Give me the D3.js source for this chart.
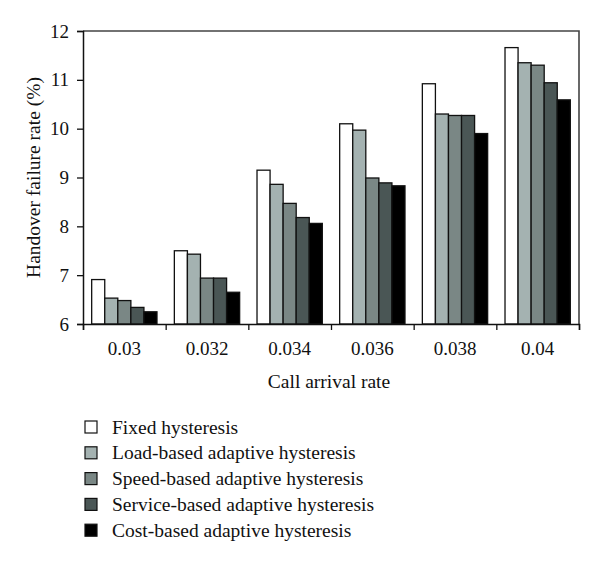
<!DOCTYPE html>
<html>
<head>
<meta charset="utf-8">
<script src="https://cdn.jsdelivr.net/npm/d3@7"></script>
<style>
  body { margin: 0; background: #fff; }
  svg text { font-family: "Liberation Serif", "DejaVu Serif", serif; fill: #111; }
</style>
</head>
<body>
<svg width="600" height="561"></svg>
<script>
// call arrival rates (x categories)
var rates = ['0.03', '0.032', '0.034', '0.036', '0.038', '0.04'];
var series = ['Fixed hysteresis', 'Load-based adaptive hysteresis', 'Speed-based adaptive hysteresis',
              'Service-based adaptive hysteresis', 'Cost-based adaptive hysteresis'];
var colors = ['#ffffff', '#a4b2b1', '#7a8785', '#4a5655', '#000000'];
var yTicks = [6, 7, 8, 9, 10, 11, 12];

// handover failure rate (%) per series, one value per rate
var fixed   = [6.91, 7.50, 9.15, 10.10, 10.92, 11.66];
var load    = [6.53, 7.43, 8.86, 9.97, 10.30, 11.35];
var speed   = [6.48, 6.94, 8.47, 8.99, 10.27, 11.30];
var service = [6.34, 6.94, 8.18, 8.89, 10.27, 10.94];
var cost    = [6.25, 6.65, 8.06, 8.83, 9.90, 10.59];
var values = [fixed, load, speed, service, cost];

var svg = d3.select('svg');
var pL = 83, pR = 579, pT = 31, pB = 324;

var x0 = d3.scaleBand().domain(rates).range([pL, pR]).paddingInner(0.21).paddingOuter(0.105);
var x1 = d3.scaleBand().domain(d3.range(series.length)).range([0, x0.bandwidth()]);
var y = d3.scaleLinear().domain([6, 12]).range([pB, pT]);
var xb = d3.scaleLinear().domain([0, rates.length]).range([pL, pR]);

// frame top / right
svg.append('path')
  .attr('d', 'M' + pL + ',' + pT + 'H' + pR + 'V' + pB)
  .attr('fill', 'none').attr('stroke', '#444').attr('stroke-width', 1.6);

// bars
var groups = svg.selectAll('g.grp')
  .data(rates)
  .enter().append('g')
  .attr('class', 'grp')
  .attr('transform', function(d){ return 'translate(' + x0(d) + ',0)'; });

groups.selectAll('rect')
  .data(function(d, i){ return values.map(function(s, j){ return {j: j, v: s[i]}; }); })
  .enter().append('rect')
  .attr('x', function(d){ return x1(d.j); })
  .attr('width', x1.bandwidth())
  .attr('y', function(d){ return y(d.v); })
  .attr('height', function(d){ return pB - y(d.v); })
  .attr('fill', function(d){ return colors[d.j]; })
  .attr('stroke', '#111')
  .attr('stroke-width', 1.3);

// y axis
var ya = svg.append('g')
  .attr('transform', 'translate(' + pL + ',0)')
  .call(d3.axisLeft(y).tickValues(yTicks).tickSize(6).tickPadding(8).tickFormat(d3.format('d')));
ya.selectAll('text').style('font-size', '19px');

// x axis: ticks at group boundaries
svg.append('g')
  .attr('transform', 'translate(0,' + pB + ')')
  .call(d3.axisBottom(xb).ticks(rates.length).tickSize(6).tickFormat(''));

// x labels at group centres
var xl = svg.append('g')
  .attr('transform', 'translate(0,' + pB + ')')
  .call(d3.axisBottom(x0).tickSize(0).tickPadding(18));
xl.select('.domain').remove();
xl.selectAll('text').style('font-size', '19px');

svg.selectAll('.domain').attr('stroke', '#111').attr('stroke-width', 1.5);
svg.selectAll('.tick line').attr('stroke', '#111').attr('stroke-width', 1.3);

// axis titles
svg.append('text')
  .attr('x', (pL + pR) / 2 - 2).attr('y', 388)
  .attr('text-anchor', 'middle').style('font-size', '19.5px')
  .text('Call arrival rate');

svg.append('text')
  .attr('transform', 'translate(40,' + ((pT + pB) / 2) + ') rotate(-90)')
  .attr('text-anchor', 'middle').style('font-size', '19.5px')
  .text('Handover failure rate (%)');

// legend
var lg = svg.selectAll('g.lg')
  .data(series)
  .enter().append('g')
  .attr('class', 'lg')
  .attr('transform', function(d, i){ return 'translate(85,' + (427 + i * 25.8) + ')'; });

lg.append('rect')
  .attr('x', 0).attr('y', -6).attr('width', 12).attr('height', 12)
  .attr('fill', function(d, i){ return colors[i]; })
  .attr('stroke', '#111').attr('stroke-width', 1.2);

lg.append('text')
  .attr('x', 27).attr('y', 6.5)
  .style('font-size', '19.5px')
  .text(function(d){ return d; });
</script>
</body>
</html>
